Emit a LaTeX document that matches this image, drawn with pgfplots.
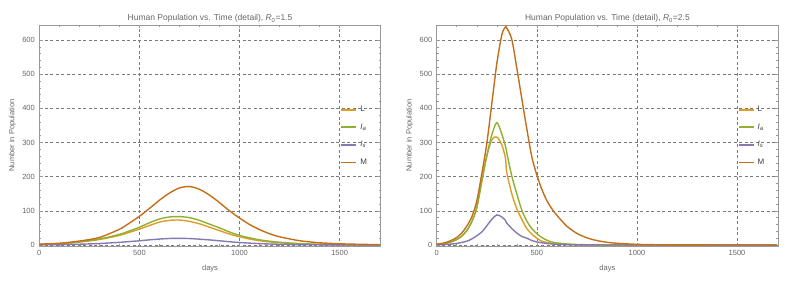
\documentclass[border=0pt]{standalone}
\usepackage{fontspec}
\setmainfont{Liberation Sans}
\usepackage{pgfplots}
\usepackage{pgfplotstable}
\pgfplotsset{compat=1.18}
\definecolor{Lc}{HTML}{E19C24}
\definecolor{Iac}{HTML}{8FB032}
\definecolor{Isc}{HTML}{8778B3}
\definecolor{Mc}{HTML}{C56E1A}
\definecolor{txtgray}{HTML}{666666}
\definecolor{legtxt}{HTML}{404040}
\definecolor{framegray}{HTML}{999999}
\definecolor{gridgray}{HTML}{7A7A7A}

% R0 = 1.5
\pgfplotstableread{
t     L     Ia    Is    M
0     1.5   1.5   0.5   2.5
100   3.5   4     1     5
200   8.5   9.5   2.2   11.5
300   16    17.5  4.3   22
400   28    31    7.7   46
450   37    41    10    64
500   46.5  52    12.3  84
550   57    65    15    107
600   67    76    17.3  131
650   72    82    19    152
700   73    83    19.5  167
750   69    80    18.8  171
800   62    72    17    163
850   52    61    14.8  146
900   42    50    12.3  124
950   32    38    9.5   100
1000  24    28    7.2   79
1050  17.5  21    5.4   60
1100  12.5  15    4     45
1150  9     11    2.9   33
1200  6.5   8     2.1   24
1300  3.3   4     1.1   12.5
1400  1.7   2     0.6   6.5
1500  0.9   1     0.3   3.5
1600  0.5   0.5   0.15  2
1700  0.3   0.3   0.1   1
}\tabA

% R0 = 2.5
\pgfplotstableread{
t     L     Ia    Is    M
0     1.5   1.5   0.5   2.5
25    3     3     1     4.5
50    5.5   5.5   1.5   8
75    9.5   9.5   2.7   14
100   16    16    4.5   22
125   26    26    7.5   35
150   42    42    11    55
175   68    68    17.5  82
200   108   110   27    128
225   188   185   38    208
250   260   260   56    296
275   308   322   75    413
300   316   358   88    530
325   293   325   82    615
343   255   290   72    638
350   212   270   64    635
375   150   202   48    602
400   106   150   35    518
425   75    102   25    428
450   48    70    20    340
475   32    48    13    258
500   20    33    9     205
525   11    22    6.5   163
550   7.5   14    4.5   130
575   4.8   9     3     106
600   3     6     2     87
650   1.4   3     1     55
700   0.7   1.5   0.5   34
750   0.4   0.7   0.3   21
800   0.2   0.4   0.1   13
850   0.1   0.2   0.05  8
900   0.05  0.1   0.02  5
1000  0     0.05  0     1.9
1100  0     0     0     0.7
1200  0     0     0     0.3
1400  0     0     0     0.05
1700  0     0     0     0
}\tabB

\pgfplotsset{
  legend image code/.code={\fill[#1, draw=none] (0pt,-0.9pt) rectangle (15pt,0.9pt);},
  mystyle/.style={
    scale only axis, width=341.4pt, height=221pt,
    xmin=0, xmax=1705, ymin=-3, ymax=644,
    xtick={0,500,1000,1500}, ytick={0,100,...,600},
    minor x tick num=4, minor y tick num=4,
    tick pos=both, tick align=inside,
    xticklabel pos=lower, yticklabel pos=left,
    major tick length=3.5pt, minor tick length=2pt,
    every tick/.style={framegray, line width=0.5pt},
    axis line style={framegray, line width=0.7pt},
    xmajorgrids, ymajorgrids,
    major grid style={gridgray, line width=0.5pt, dash pattern=on 3pt off 2.5pt},
    tick label style={font=\fontsize{7.5}{8}\selectfont, text=txtgray},
    /pgf/number format/assume math mode=true,
    /pgf/number format/1000 sep={},
    xticklabel style={yshift=-1pt},
    yticklabel style={xshift=-1pt},
    label style={font=\fontsize{7.5}{8}\selectfont, text=txtgray},
    xlabel={days},
    xlabel style={at={(axis description cs:0.5,0)}, anchor=base, yshift=-24.5pt},
    ylabel={Number in Population},
    ylabel style={at={(axis description cs:-0.079,0.5)}, anchor=center},
    title style={font=\fontsize{8.5}{9}\selectfont, text=txtgray, at={(axis description cs:0.5,1)}, anchor=base, yshift=-2pt},
    legend style={at={(axis description cs:0.884,0.640)}, anchor=north west, draw=none, fill=none, inner sep=0pt,
      font=\fontsize{8}{9}\selectfont, text=legtxt, row sep=7.6pt,
      nodes={text height=6pt, text depth=2pt, inner sep=1pt},
      /tikz/every odd column/.append style={column sep=3pt}},
    legend cell align=left,
  }
}

\begin{document}
\begin{tikzpicture}[x=1pt,y=1pt]
\path[use as bounding box] (0,0) rectangle (797,285);
\begin{axis}[mystyle, at={(39.3pt,39pt)}, anchor=south west,
  title={Human Population vs. Time (detail), \textit{R}\textsubscript{0}=1.5}]
\addplot[color=Lc, line width=1.4pt, smooth, no marks] table[x=t,y=L] {\tabA};
\addplot[color=Iac, line width=1.4pt, smooth, no marks] table[x=t,y=Ia] {\tabA};
\addplot[color=Isc, line width=1.4pt, smooth, no marks] table[x=t,y=Is] {\tabA};
\addplot[color=Mc, line width=1.4pt, smooth, no marks] table[x=t,y=M] {\tabA};
\legend{L, \textit{I}\textsubscript{\textit{a}}, \textit{I}\textsubscript{\textit{s}}, M}
\end{axis}
\begin{axis}[mystyle, at={(436.7pt,39pt)}, anchor=south west,
  title={Human Population vs. Time (detail), \textit{R}\textsubscript{0}=2.5}]
\addplot[color=Lc, line width=1.4pt, smooth, no marks] table[x=t,y=L] {\tabB};
\addplot[color=Iac, line width=1.4pt, smooth, no marks] table[x=t,y=Ia] {\tabB};
\addplot[color=Isc, line width=1.4pt, smooth, no marks] table[x=t,y=Is] {\tabB};
\addplot[color=Mc, line width=1.4pt, smooth, no marks] table[x=t,y=M] {\tabB};
\legend{L, \textit{I}\textsubscript{\textit{a}}, \textit{I}\textsubscript{\textit{s}}, M}
\end{axis}
\end{tikzpicture}
\end{document}
